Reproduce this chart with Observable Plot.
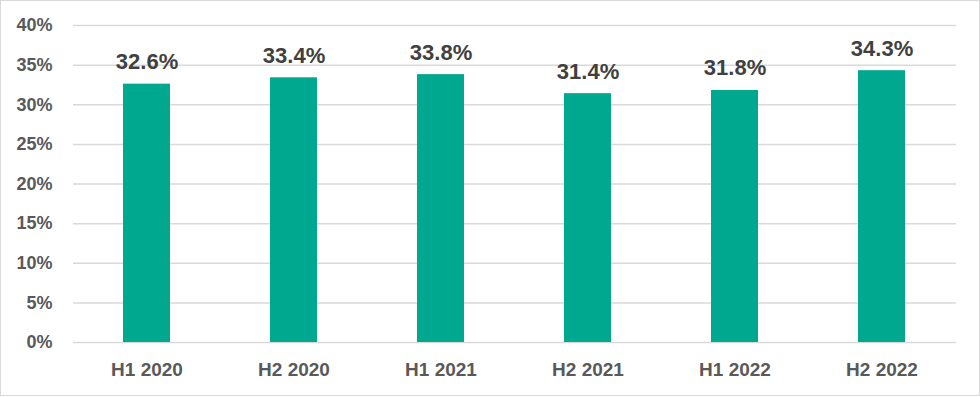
<!DOCTYPE html>
<html>
<head>
<meta charset="utf-8">
<script src="https://cdn.jsdelivr.net/npm/d3@7"></script>
<script src="https://cdn.jsdelivr.net/npm/@observablehq/plot@0.6"></script>
<style>
  html, body { margin: 0; padding: 0; background: #fff; }
  #wrap { position: relative; width: 980px; height: 397px; }
  #border { position: absolute; left: 0; top: 0; width: 978px; height: 394px; border: 1px solid #d9d9d9; pointer-events: none; }
  svg { display: block; }
</style>
</head>
<body>
<div id="wrap"><div id="border"></div></div>
<script>
const categories = ["H1 2020", "H2 2020", "H1 2021", "H2 2021", "H1 2022", "H2 2022"];
const values = [32.6, 33.4, 33.8, 31.4, 31.8, 34.3];
const yTicks = [0, 5, 10, 15, 20, 25, 30, 35, 40];

const data = categories.map((c, i) => ({category: c, value: values[i]}));

const chart = Plot.plot({
  width: 980,
  height: 397,
  marginLeft: 73,
  marginRight: 24,
  marginTop: 25,
  marginBottom: 55,
  style: {fontFamily: "'Liberation Sans', Arial, sans-serif", background: "transparent"},
  x: {domain: categories, paddingInner: 0.68, paddingOuter: 0.34, label: null},
  y: {domain: [0, 40], label: null},
  marks: [
    Plot.ruleY(yTicks, {stroke: "#d9d9d9", strokeWidth: 1.5}),
    Plot.barY(data, {x: "category", y: "value", fill: "#00A88F"}),
    Plot.axisY({ticks: yTicks, tickSize: 0, tickPadding: 21, tickFormat: d => d + "%", fontSize: 18, fontWeight: "bold", fill: "#595959", label: null}),
    Plot.axisX({tickSize: 0, tickPadding: 20, fontSize: 19, fontWeight: "bold", fill: "#595959", label: null}),
    Plot.text(data, {x: "category", y: "value", text: d => d.value.toFixed(1) + "%", lineAnchor: "bottom", dy: -15, fontSize: 22, fontWeight: "bold", fill: "#404040"})
  ]
});
document.getElementById("wrap").prepend(chart);
</script>
</body>
</html>
